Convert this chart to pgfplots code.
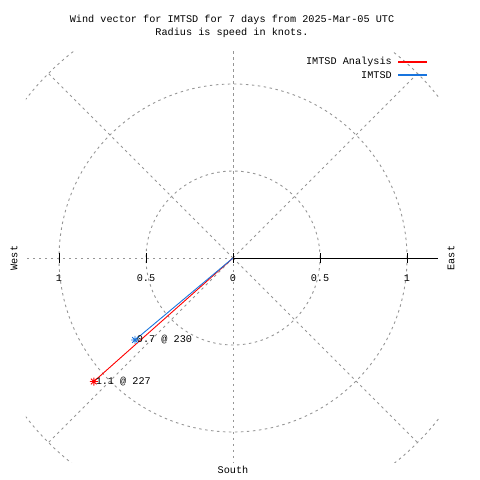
\documentclass[border=0pt]{standalone}
\usepackage{fontspec}
\setmainfont{Liberation Mono}
\setmonofont{Liberation Mono}
\usepackage{pgfplots}
\pgfplotsset{compat=1.18}
\definecolor{gpblue}{RGB}{24,116,222}
\definecolor{gpred}{RGB}{255,0,0}
\definecolor{gridgray}{RGB}{150,150,150}
\pgfdeclareplotmark{gpstar}{%
  \pgfpathmoveto{\pgfqpoint{-\pgfplotmarksize}{0pt}}%
  \pgfpathlineto{\pgfqpoint{\pgfplotmarksize}{0pt}}%
  \pgfpathmoveto{\pgfqpoint{0pt}{-\pgfplotmarksize}}%
  \pgfpathlineto{\pgfqpoint{0pt}{\pgfplotmarksize}}%
  \pgfpathmoveto{\pgfqpoint{-0.7\pgfplotmarksize}{-0.7\pgfplotmarksize}}%
  \pgfpathlineto{\pgfqpoint{0.7\pgfplotmarksize}{0.7\pgfplotmarksize}}%
  \pgfpathmoveto{\pgfqpoint{-0.7\pgfplotmarksize}{0.7\pgfplotmarksize}}%
  \pgfpathlineto{\pgfqpoint{0.7\pgfplotmarksize}{-0.7\pgfplotmarksize}}%
  \pgfusepathqstroke}
\begin{document}
\begin{tikzpicture}[font=\fontsize{10.2}{13}\selectfont]
\path[use as bounding box] (0,0) rectangle (480pt,480pt);
\begin{axis}[
  x=174pt, y=174pt,
  anchor=origin, at={(233pt,222pt)},
  xmin=-1.19, xmax=1.184, ymin=-1.178, ymax=1.184,
  axis lines=none,
  clip=true,
]
% polar grid
\begin{scope}[gridgray, line width=0.9pt, dash pattern=on 2.5pt off 3.5pt]
\draw (axis cs:0,0) circle[radius=87pt];
\draw (axis cs:0,0) circle[radius=174pt];
\draw (axis cs:0,0) circle[radius=261pt];
\draw (axis cs:0,0) -- (axis cs:1.0607,1.0607);
\draw (axis cs:0,0) -- (axis cs:-1.0607,1.0607);
\draw (axis cs:0,0) -- (axis cs:-1.0607,-1.0607);
\draw (axis cs:0,0) -- (axis cs:1.0607,-1.0607);
\draw (axis cs:0,0) -- (axis cs:0,1.5);
\draw (axis cs:0,0) -- (axis cs:0,-1.5);
\draw (axis cs:0,0) -- (axis cs:-1.5,0);
\end{scope}
% r axis
\draw[black, line width=0.8pt] (axis cs:0,0) -- (axis cs:1.177,0);
\foreach \t in {-1,-0.5,0,0.5,1}{
  \edef\temp{\noexpand\draw[black, line width=0.8pt] (axis cs:\t,-0.026) -- (axis cs:\t,0.026);}
  \temp
}
\node at (axis cs:-1,-0.115) {1};
\node at (axis cs:-0.5,-0.115) {0.5};
\node at (axis cs:0,-0.115) {0};
\node at (axis cs:0.5,-0.115) {0.5};
\node at (axis cs:1,-0.115) {1};
% data
\addplot[color=gpred, line width=0.9pt, mark=gpstar, mark size=4pt, mark indices={2}]
  coordinates {(0,0) (-0.80,-0.71)}
  node[pos=1, anchor=west, text=black, inner sep=0pt, xshift=1.5pt] {1.1 @ 227};
\addplot[color=gpblue, line width=0.9pt, mark=gpstar, mark size=4pt, mark indices={2}]
  coordinates {(0,0) (-0.563,-0.471)}
  node[pos=1, anchor=west, text=black, inner sep=0pt, xshift=1.5pt] {0.7 @ 230};
\end{axis}
% legend
\node[anchor=east, inner sep=0pt] at (392pt,418pt) {IMTSD Analysis};
\node[anchor=east, inner sep=0pt] at (392pt,405pt) {IMTSD};
\draw[gpred, line width=1.2pt] (398pt,418pt) -- (427pt,418pt);
\draw[gpblue, line width=1.2pt] (398pt,405pt) -- (427pt,405pt);
\node[align=center] at (232pt,453.5pt) {Wind vector for IMTSD for 7 days from 2025-Mar-05 UTC\\Radius is speed in knots.};
\node[rotate=90] at (14pt,222pt) {West};
\node[rotate=90] at (451pt,222pt) {East};
\node at (233pt,10pt) {South};
\end{tikzpicture}
\end{document}
